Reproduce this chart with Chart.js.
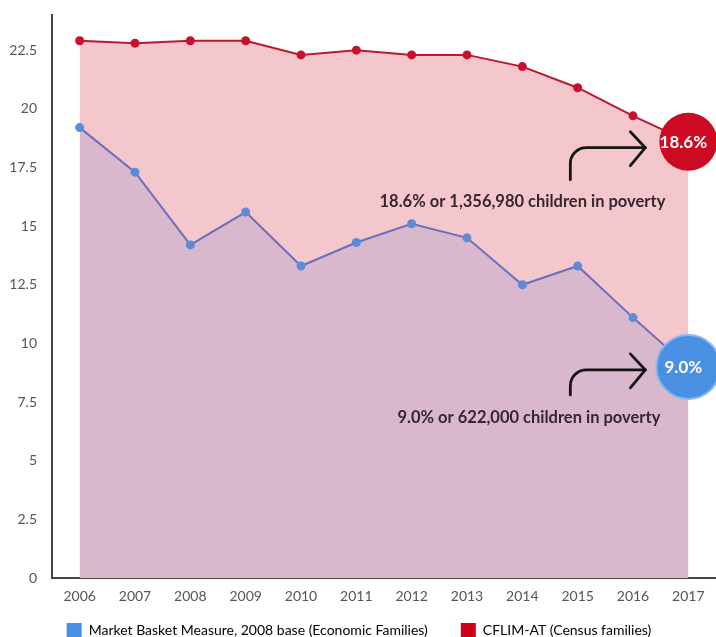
<!DOCTYPE html>
<html>
<head>
<meta charset="utf-8">
<script src="https://cdn.jsdelivr.net/npm/chart.js@4.4.1/dist/chart.umd.min.js"></script>
<style>
  html, body { margin: 0; padding: 0; background: #fff; overflow: hidden; }
  #wrap { width: 716px; height: 637px; }
</style>
</head>
<body>
<div id="wrap"><canvas id="povertyChart"></canvas></div>
<script>
// child poverty rates, Canada 2006-2017

const YEARS = ["2006", "2007", "2008", "2009", "2010", "2011", "2012", "2013", "2014", "2015", "2016", "2017"];
const MBM_RATES = [19.2, 17.3, 14.2, 15.6, 13.3, 14.3, 15.1, 14.5, 12.5, 13.3, 11.1, 9.0];
const CFLIM_RATES = [22.9, 22.8, 22.9, 22.9, 22.3, 22.5, 22.3, 22.3, 21.8, 20.9, 19.7, 18.6];
const SERIES_NAMES = ["Market Basket Measure, 2008 base (Economic Families)", "CFLIM-AT (Census families)"];
const Y_TICKS = [0, 2.5, 5, 7.5, 10, 12.5, 15, 17.5, 20, 22.5];
const CALLOUTS = ["9.0% or 622,000 children in poverty", "18.6% or 1,356,980 children in poverty"];

const FONT = "Lato, 'Open Sans', sans-serif";
const LEGEND_COLORS = ["#4a90e2", "#d0021b"];

// per-point styles: small dots, big badge on the last year
const lastIdx = YEARS.length - 1;
const perPoint = (dot, badge) => YEARS.map((_, i) => (i === lastIdx ? badge : dot));

const noPadding = s => {
  s.paddingLeft = s.paddingRight = s.paddingTop = s.paddingBottom = 0;
};

// callout geometry relative to the badge point (one entry per dataset)
const calloutPlugin = {
  id: "callouts",
  defaults: {
    layout: [
      { tipDy: 3, startDy: 28, textDx: -28, textDy: 51 },
      { tipDy: 6, startDy: 38, textDx: -23, textDy: 60 }
    ]
  },
  afterDatasetsDraw(chart, args, opts) {
    const ctx = chart.ctx;
    chart.data.datasets.forEach((ds, i) => {
      const meta = chart.getDatasetMeta(i);
      const pt = meta.data[meta.data.length - 1];
      const g = opts.layout[i];
      if (!pt || !g) return;
      const { x, y } = pt;
      ctx.save();

      // badge text
      ctx.fillStyle = "#fff";
      ctx.font = `bold 17px ${FONT}`;
      ctx.textAlign = "center";
      ctx.textBaseline = "middle";
      ctx.fillText(ds.data[ds.data.length - 1].toFixed(1) + "%", x - 5, y + 1);

      // curved arrow pointing at the badge
      const tipX = x - 43, tipY = y + g.tipDy;
      const startX = x - 118, startY = y + g.startDy, r = 16;
      ctx.strokeStyle = "#141414";
      ctx.lineWidth = 2.8;
      ctx.lineCap = "round";
      ctx.lineJoin = "round";
      ctx.beginPath();
      ctx.moveTo(startX, startY);
      ctx.lineTo(startX, tipY + r);
      ctx.arcTo(startX, tipY, startX + r, tipY, r);
      ctx.lineTo(tipX, tipY);
      ctx.stroke();
      ctx.beginPath();
      ctx.moveTo(tipX - 15, tipY - 16);
      ctx.lineTo(tipX, tipY);
      ctx.lineTo(tipX - 15, tipY + 18);
      ctx.stroke();

      // caption
      ctx.fillStyle = "#35262f";
      ctx.font = `bold 16.5px ${FONT}`;
      ctx.textAlign = "right";
      ctx.fillText(CALLOUTS[i], x + g.textDx, y + g.textDy);
      ctx.restore();
    });
  }
};

new Chart(document.getElementById("povertyChart"), {
  type: "line",
  data: {
    labels: YEARS,
    datasets: [
      {
        label: SERIES_NAMES[0],
        data: MBM_RATES,
        borderColor: "#6a6fbb",
        borderWidth: 2,
        backgroundColor: "#d9b8cd",
        fill: "origin",
        tension: 0,
        pointRadius: perPoint(4.5, 32),
        pointHoverRadius: perPoint(4.5, 32),
        pointBackgroundColor: perPoint("#5b8bd9", "#4a90e2"),
        pointBorderColor: perPoint("#5b8bd9", "#8cb6ec"),
        pointBorderWidth: perPoint(0, 2),
        clip: false
      },
      {
        label: SERIES_NAMES[1],
        data: CFLIM_RATES,
        borderColor: "#b81a30",
        borderWidth: 2,
        backgroundColor: "#f4c7cc",
        fill: "origin",
        tension: 0,
        pointRadius: perPoint(4.5, 29),
        pointHoverRadius: perPoint(4.5, 29),
        pointBackgroundColor: perPoint("#c8102e", "#cc0a22"),
        pointBorderColor: perPoint("#c8102e", "#cc0a22"),
        pointBorderWidth: 0,
        clip: false
      }
    ]
  },
  options: {
    responsive: true,
    maintainAspectRatio: false,
    animation: false,
    layout: { autoPadding: false, padding: { top: 15, right: -2, bottom: -10, left: 0 } },
    plugins: {
      tooltip: { enabled: false },
      legend: {
        position: "bottom",
        labels: {
          boxWidth: 15,
          boxHeight: 14,
          padding: 33,
          color: "#444",
          font: { family: FONT, size: 14 },
          generateLabels: chart => chart.data.datasets.map((ds, i) => ({
            text: ds.label,
            fillStyle: LEGEND_COLORS[i],
            strokeStyle: LEGEND_COLORS[i],
            lineWidth: 0,
            datasetIndex: i
          }))
        }
      }
    },
    scales: {
      x: {
        offset: true,
        grid: { display: false, drawTicks: false },
        border: { display: true, color: "#444", width: 2 },
        // mirrored with negative padding so the labels sit below the axis without clipping
        ticks: { mirror: true, padding: -26.4, color: "#555", font: { family: FONT, size: 14 } },
        afterFit: s => { s.height = 12; noPadding(s); }
      },
      y: {
        min: 0,
        max: 24,
        grid: { display: false, drawTicks: false },
        border: { display: true, color: "#444", width: 2 },
        ticks: { color: "#555", padding: 15, font: { family: FONT, size: 14 } },
        afterBuildTicks: s => { s.ticks = Y_TICKS.map(v => ({ value: v })); },
        afterFit: s => { s.width = 52; noPadding(s); }
      }
    }
  },
  plugins: [calloutPlugin]
});
</script>
</body>
</html>
